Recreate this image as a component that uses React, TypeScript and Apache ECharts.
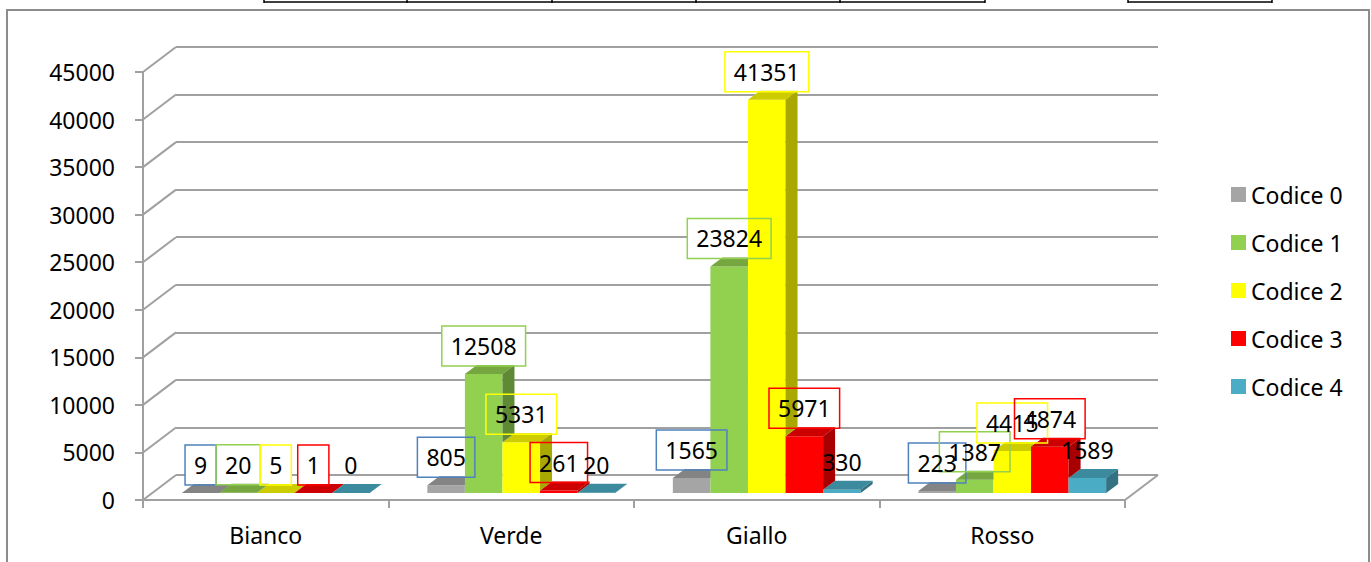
import React, { useEffect, useRef } from 'react';
import * as echarts from 'echarts';

// ---------- data ----------
const categories = ['Bianco', 'Verde', 'Giallo', 'Rosso'];
const seriesNames = ['Codice 0', 'Codice 1', 'Codice 2', 'Codice 3', 'Codice 4'];
const codice0 = [9, 805, 1565, 223];
const codice1 = [20, 12508, 23824, 1387];
const codice2 = [5, 5331, 41351, 4415];
const codice3 = [1, 261, 5971, 4874];
const codice4 = [0, 20, 330, 1589];
const yTicks = [0, 5000, 10000, 15000, 20000, 25000, 30000, 35000, 40000, 45000];

const allSeries = [codice0, codice1, codice2, codice3, codice4];

// ---------- style ----------
const palette = ['#a5a5a5', '#92d050', '#ffff00', '#ff0000', '#4bacc6'];
const labelBorders: (string | null)[] = ['#4f81bd', '#92d050', '#ffff00', '#ff0000', null];
const FONT = '"Noto Sans", sans-serif';
const FS = 23;
const GRID_COLOR = '#a0a0a0';

const BAR_RATIO = 0.153;
const OFF_X = 10;
const OFF_Y = -7;
const DX = 12;
const DY = -9;
const BACK_DX = 33;
const BACK_DY = -25;
const PAD_X = 9;
const BOX_H = 40;
const LABEL_GAP = 8;

function shade(hex: string, f: number) {
  const n = parseInt(hex.slice(1), 16);
  const r = Math.round(((n >> 16) & 255) * f);
  const g = Math.round(((n >> 8) & 255) * f);
  const b = Math.round((n & 255) * f);
  return `rgb(${r},${g},${b})`;
}

let measureCtx: CanvasRenderingContext2D | null = null;
function measure(t: string) {
  if (!measureCtx) {
    const c = document.createElement('canvas');
    measureCtx = c.getContext('2d');
  }
  if (!measureCtx) return t.length * FS * 0.572;
  measureCtx.font = `${FS}px "Noto Sans"`;
  return measureCtx.measureText(t).width;
}

function makeBarRender(s: number) {
  return (params: any, api: any) => {
    const ci = api.value(0);
    const v = api.value(1);
    const base = api.coord([ci, 0]);
    const top = api.coord([ci, v]);
    const cw = api.size([1, 0])[0];
    const bw = cw * BAR_RATIO;
    const x0 = base[0] - 2.5 * bw + s * bw + OFF_X;
    const y0 = base[1] + OFF_Y;
    const yt = top[1] + OFF_Y;
    const color = palette[s];
    const children: any[] = [];
    children.push({
      type: 'rect',
      shape: { x: x0, y: yt, width: bw, height: Math.max(0, y0 - yt) },
      style: { fill: color },
      z2: 10 + s,
    });
    children.push({
      type: 'polygon',
      shape: { points: [[x0, yt], [x0 + bw, yt], [x0 + bw + DX, yt + DY], [x0 + DX, yt + DY]] },
      style: { fill: shade(color, 0.8) },
      z2: 10 + s,
    });
    let yb = y0;
    if (s < allSeries.length - 1) {
      const nv = allSeries[s + 1][ci];
      const ny = api.coord([ci, nv])[1] + OFF_Y;
      yb = Math.min(y0, ny);
    }
    if (yb > yt) {
      children.push({
        type: 'polygon',
        shape: {
          points: [[x0 + bw, yb], [x0 + bw, yt], [x0 + bw + DX, yt + DY], [x0 + bw + DX, yb + DY]],
        },
        style: { fill: shade(color, 0.66) },
        z2: 60,
      });
    }
    const txt = String(v);
    const tw = measure(txt);
    const boxW = tw + 2 * PAD_X;
    const cx = x0 + bw / 2;
    const by = yt - LABEL_GAP - BOX_H;
    const border = labelBorders[s];
    if (border) {
      children.push({
        type: 'rect',
        shape: { x: cx - boxW / 2, y: by, width: boxW, height: BOX_H },
        style: { fill: '#ffffff' },
        z2: 0,
      });
      children.push({
        type: 'rect',
        shape: { x: cx - boxW / 2, y: by, width: boxW, height: BOX_H },
        style: { fill: 'none', stroke: border, lineWidth: 1.5 },
        z2: 80,
      });
    }
    children.push({
      type: 'text',
      x: cx,
      y: by + BOX_H / 2,
      style: {
        text: txt,
        fill: '#000',
        fontSize: FS,
        fontFamily: FONT,
        align: 'center',
        verticalAlign: 'middle',
      },
      z2: 100,
    });
    return { type: 'group', children };
  };
}

function wallRender(params: any, api: any) {
  const v = api.value(1);
  const cs = params.coordSys;
  const p = api.coord([0, v]);
  const children: any[] = [
    {
      type: 'line',
      shape: { x1: cs.x, y1: p[1], x2: cs.x + BACK_DX, y2: p[1] + BACK_DY },
      style: { stroke: GRID_COLOR, lineWidth: 2 },
    },
  ];
  if (v === 0) {
    children.push({
      type: 'line',
      shape: { x1: cs.x + cs.width, y1: p[1], x2: cs.x + cs.width + BACK_DX, y2: p[1] + BACK_DY },
      style: { stroke: GRID_COLOR, lineWidth: 2 },
    });
  }
  return { type: 'group', children };
}

export default function App() {
  const ref = useRef<HTMLDivElement>(null);
  useEffect(() => {
    if (!ref.current) return;
    const chart = echarts.init(ref.current, undefined, { renderer: 'svg' });
    const tableXs = [264, 407, 552, 696, 840, 985];
    const graphics: any[] = [
      {
        type: 'rect',
        shape: { x: 7, y: 10, width: 1362, height: 560 },
        style: { fill: 'none', stroke: '#8c8c8c', lineWidth: 2 },
        silent: true,
      },
      { type: 'line', shape: { x1: 264, y1: 2, x2: 985, y2: 2 }, style: { stroke: '#000', lineWidth: 1.5 } },
      { type: 'line', shape: { x1: 1128, y1: 2, x2: 1272, y2: 2 }, style: { stroke: '#000', lineWidth: 1.5 } },
      ...[...tableXs, 1128, 1272].map((x) => ({
        type: 'line',
        shape: { x1: x, y1: 0, x2: x, y2: 3 },
        style: { stroke: '#000', lineWidth: 1.5 },
      })),
    ];
    const series: any[] = [
      {
        type: 'custom',
        name: 'walls',
        xAxisIndex: 0,
        yAxisIndex: 0,
        data: yTicks.map((v) => [0, v]),
        encode: { x: 0, y: 1 },
        renderItem: wallRender,
        z: 1,
        silent: true,
      },
      ...allSeries.map((arr, s) => ({
        type: 'custom',
        name: seriesNames[s],
        xAxisIndex: 0,
        yAxisIndex: 0,
        itemStyle: { color: palette[s] },
        data: arr.map((v, i) => [i, v]),
        encode: { x: 0, y: 1 },
        renderItem: makeBarRender(s),
        z: 2,
      })),
    ];
    chart.setOption({
      animation: false,
      color: palette,
      textStyle: { fontFamily: FONT },
      graphic: graphics,
      grid: [
        { left: 143, right: 246, top: 72, bottom: 62 },
        { left: 143 + BACK_DX, right: 246 - BACK_DX, top: 72 + BACK_DY, bottom: 62 - BACK_DY },
      ],
      xAxis: [
        {
          type: 'category',
          gridIndex: 0,
          data: categories,
          boundaryGap: true,
          axisLine: { lineStyle: { color: GRID_COLOR, width: 2 } },
          axisTick: { show: true, length: 8, lineStyle: { color: GRID_COLOR, width: 2 } },
          axisLabel: { color: '#000', fontSize: FS, fontFamily: FONT, margin: 23 },
          splitLine: { show: false },
        },
        {
          type: 'category',
          gridIndex: 1,
          data: categories,
          show: false,
        },
      ],
      yAxis: [
        {
          type: 'value',
          gridIndex: 0,
          min: 0,
          max: 45000,
          interval: 5000,
          axisLine: { show: true, lineStyle: { color: GRID_COLOR, width: 2 } },
          axisTick: { show: true, length: 8, lineStyle: { color: GRID_COLOR, width: 2 } },
          axisLabel: {
            color: '#000',
            fontSize: FS,
            fontFamily: FONT,
            margin: 28,
            formatter: (v: number) => String(v),
          },
          splitLine: { show: false },
        },
        {
          type: 'value',
          gridIndex: 1,
          min: 0,
          max: 45000,
          interval: 5000,
          axisLine: { show: false },
          axisTick: { show: false },
          axisLabel: { show: false },
          splitLine: { show: true, lineStyle: { color: GRID_COLOR, width: 2 } },
        },
      ],
      legend: {
        data: seriesNames,
        orient: 'vertical',
        left: 1226,
        top: 178,
        itemWidth: 15,
        itemHeight: 15,
        itemGap: 25,
        icon: 'rect',
        textStyle: { color: '#000', fontSize: FS, fontFamily: FONT, lineHeight: 23 },
      },
      series,
    });
    return () => chart.dispose();
  }, []);
  return (
    <div
      ref={ref}
      style={{ position: 'fixed', left: 0, top: 0, width: 1371, height: 562, background: '#fff' }}
    />
  );
}
